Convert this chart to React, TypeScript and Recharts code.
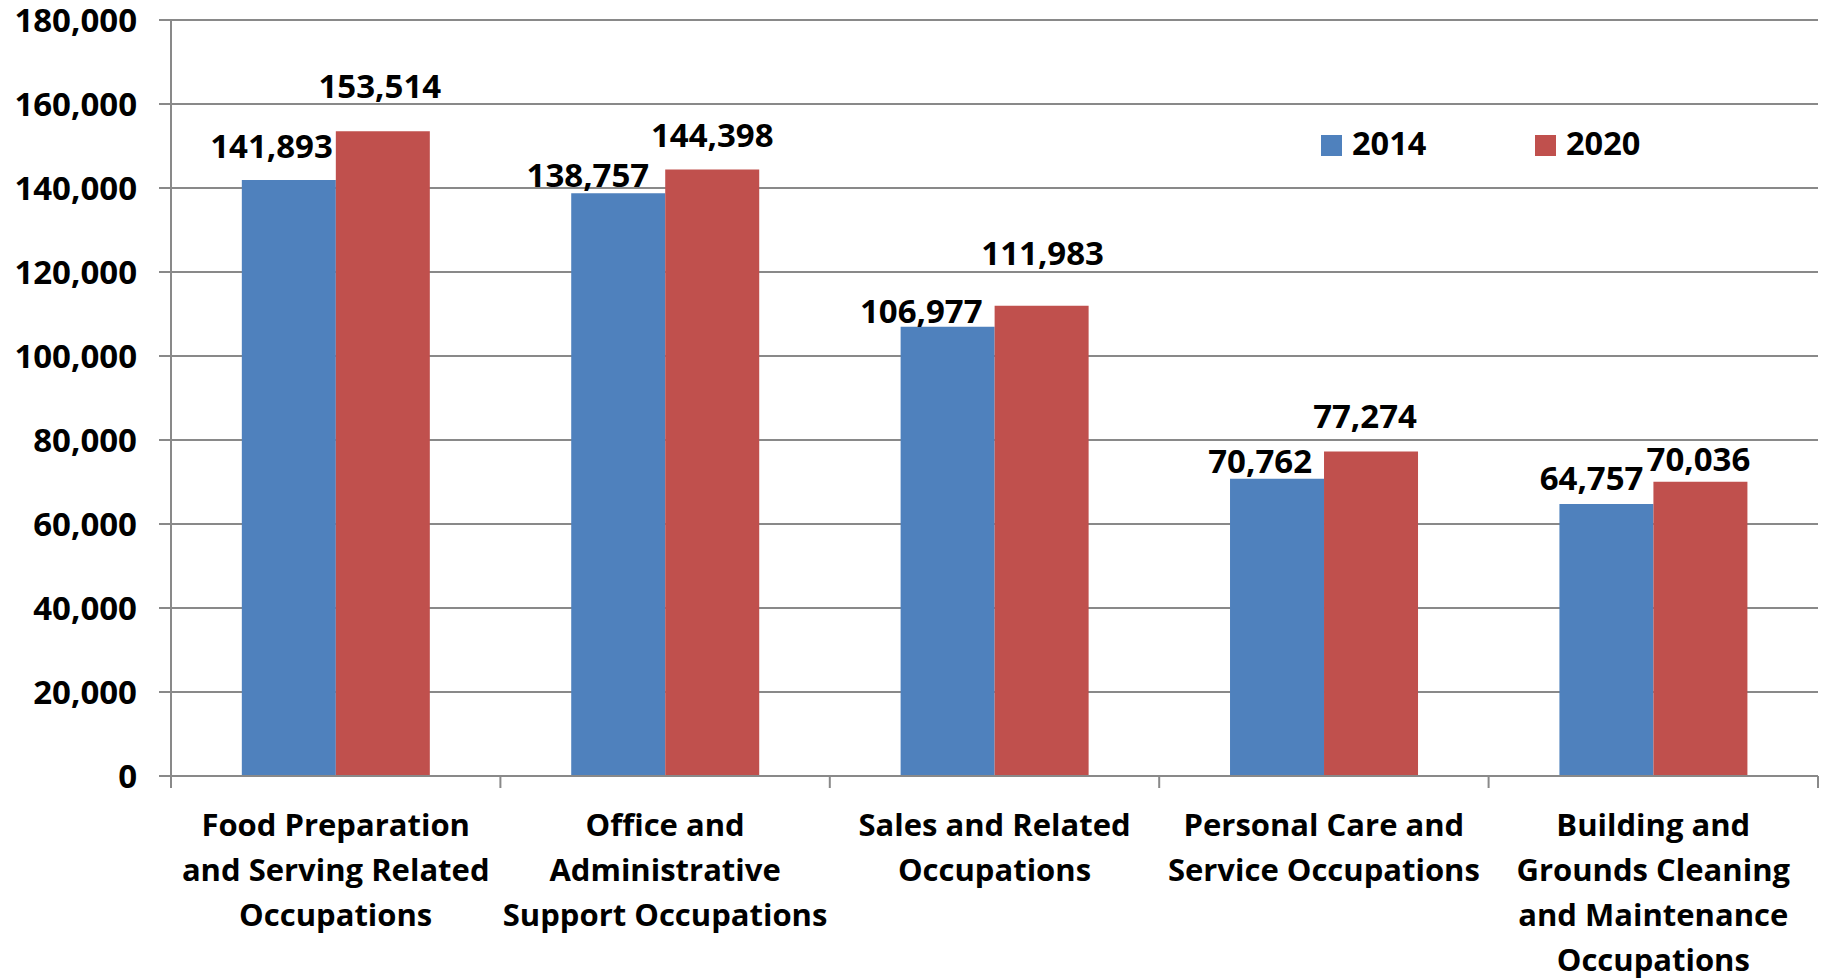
import React from 'react';
import { BarChart, Bar, XAxis, YAxis, CartesianGrid, LabelList } from 'recharts';

const CATEGORIES = [
  'Food Preparation\nand Serving Related\nOccupations',
  'Office and\nAdministrative\nSupport Occupations',
  'Sales and Related\nOccupations',
  'Personal Care and\nService Occupations',
  'Building and\nGrounds Cleaning\nand Maintenance\nOccupations',
];
const JOBS_2014 = [141893, 138757, 106977, 70762, 64757];
const JOBS_2020 = [153514, 144398, 111983, 77274, 70036];
const Y_TICKS = [0, 20000, 40000, 60000, 80000, 100000, 120000, 140000, 160000, 180000];

// label placement, as nudged by hand in the original
const BLUE_LABEL_DX = [-3, -16, -12, -12, -10];
const BLUE_LABEL_GAP = [22, 6, 4, 6, 14];
const RED_LABEL_DX = [-3, 0, 1, -6, -2];
const RED_LABEL_GAP = [33, 23, 41, 23, 11];

const BLUE = '#4F81BD';
const RED = '#C0504D';
const GRID = '#898989';
const FONT = '"Open Sans", sans-serif';

const data = CATEGORIES.map((name, i) => ({ name, y2014: JOBS_2014[i], y2020: JOBS_2020[i] }));

const fmt = (v: number) => v.toLocaleString('en-US');

// category label plus the tick marks that sit between categories
const CategoryTick = (props: any) => {
  const { x, y, payload, index, width } = props;
  const band = width / CATEGORIES.length;
  const lines = String(payload.value).split('\n');
  const edges = index === CATEGORIES.length - 1 ? [x - band / 2, x + band / 2] : [x - band / 2];
  return (
    <g>
      {edges.map((ex) => (
        <line key={ex} x1={ex} x2={ex} y1={y} y2={y + 12} stroke={GRID} strokeWidth={2} />
      ))}
      {lines.map((line, i) => (
        <text
          key={i}
          x={x}
          y={y + 60 + i * 45}
          textAnchor="middle"
          fontFamily={FONT}
          fontWeight={700}
          fontSize={31}
          fill="#000"
        >
          {line}
        </text>
      ))}
    </g>
  );
};

const makeLabel = (values: number[], dxs: number[], gaps: number[], anchor: 'end' | 'middle') => (props: any) => {
  const { x, y, width, value } = props;
  const i = props.index ?? values.indexOf(value);
  const tx = anchor === 'end' ? x + width + dxs[i] : x + width / 2 + dxs[i];
  return (
    <text
      x={tx}
      y={y - gaps[i]}
      textAnchor={anchor}
      fontFamily={FONT}
      fontWeight={700}
      fontSize={33}
      fill="#000"
    >
      {fmt(value)}
    </text>
  );
};

const LegendBox = () => (
  <div style={{ position: 'absolute', left: 1321, top: 124, display: 'flex', fontFamily: FONT, fontWeight: 700, fontSize: 32.5 }}>
    {[
      { label: '2014', color: BLUE },
      { label: '2020', color: RED },
    ].map((item) => (
      <div key={item.label} style={{ display: 'flex', alignItems: 'flex-end', width: 214, height: 38 }}>
        <div style={{ width: 21, height: 21, background: item.color, marginRight: 10, marginBottom: 6 }} />
        <span style={{ lineHeight: '38px' }}>{item.label}</span>
      </div>
    ))}
  </div>
);

export default function App() {
  return (
    <div style={{ position: 'absolute', left: 0, top: 0, width: 1825, height: 980, background: '#fff' }}>
      <BarChart
        width={1825}
        height={980}
        data={data}
        margin={{ top: 20, right: 7, bottom: 0, left: 0 }}
        barCategoryGap="21.5%"
        barGap={0}
      >
        <CartesianGrid vertical={false} stroke={GRID} strokeWidth={2} />
        <XAxis
          dataKey="name"
          height={204}
          interval={0}
          axisLine={{ stroke: GRID, strokeWidth: 2 }}
          tickLine={false}
          tickSize={0}
          tickMargin={0}
          tick={<CategoryTick />}
        />
        <YAxis
          width={171}
          domain={[0, 180000]}
          ticks={Y_TICKS}
          interval={0}
          tickFormatter={fmt}
          axisLine={{ stroke: GRID, strokeWidth: 2 }}
          tickLine={{ stroke: GRID, strokeWidth: 2 }}
          tickSize={12}
          tickMargin={22}
          tick={{ fontFamily: FONT, fontWeight: 700, fontSize: 33, fill: '#000' }}
        />
        <Bar dataKey="y2014" fill={BLUE} isAnimationActive={false}>
          <LabelList dataKey="y2014" content={makeLabel(JOBS_2014, BLUE_LABEL_DX, BLUE_LABEL_GAP, 'end')} />
        </Bar>
        <Bar dataKey="y2020" fill={RED} isAnimationActive={false}>
          <LabelList dataKey="y2020" content={makeLabel(JOBS_2020, RED_LABEL_DX, RED_LABEL_GAP, 'middle')} />
        </Bar>
      </BarChart>
      <LegendBox />
    </div>
  );
}
